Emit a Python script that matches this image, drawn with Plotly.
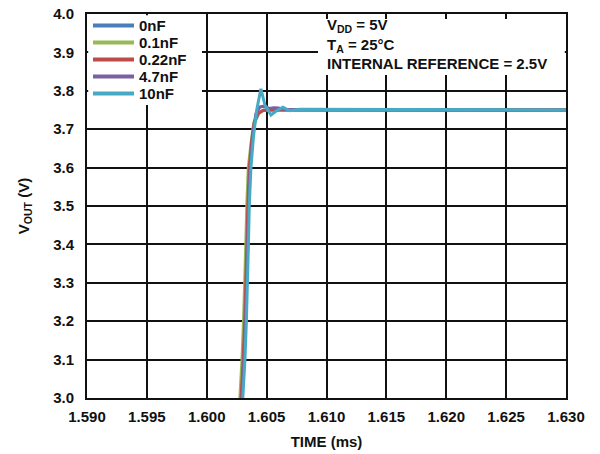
import plotly.graph_objects as go

# ---- data (time in ms, VOUT in V) ----
names = ["0nF", "0.1nF", "0.22nF", "4.7nF", "10nF"]
colors = ["#4a7ebb", "#98b954", "#be4b48", "#7d60a0", "#46aac5"]

t_0nF = [1.60280, 1.60290, 1.60306, 1.60319, 1.60330, 1.60336, 1.60344, 1.60356, 1.60377, 1.60402, 1.60436, 1.60477, 1.60528, 1.63000]
v_0nF = [2.95, 3.00, 3.10, 3.20, 3.30, 3.40, 3.50, 3.60, 3.67, 3.72, 3.742, 3.750, 3.750, 3.750]

t_01nF = [1.60268, 1.60278, 1.60294, 1.60307, 1.60319, 1.60326, 1.60334, 1.60347, 1.60368, 1.60392, 1.60425, 1.60465, 1.60520, 1.63000]
v_01nF = [2.95, 3.00, 3.10, 3.20, 3.30, 3.40, 3.50, 3.60, 3.66, 3.716, 3.738, 3.748, 3.750, 3.750]

t_022nF = [1.60278, 1.60288, 1.60304, 1.60317, 1.60329, 1.60335, 1.60343, 1.60355, 1.60375, 1.60398, 1.60430, 1.60470, 1.60525, 1.63000]
v_022nF = [2.95, 3.00, 3.10, 3.20, 3.30, 3.40, 3.50, 3.60, 3.67, 3.72, 3.742, 3.749, 3.750, 3.750]

t_47nF = [1.60285, 1.60295, 1.60311, 1.60324, 1.60336, 1.60342, 1.60350, 1.60363, 1.60383, 1.60410, 1.60445, 1.60480, 1.60520, 1.60560, 1.60600, 1.60650, 1.63000]
v_47nF = [2.95, 3.00, 3.10, 3.20, 3.30, 3.40, 3.50, 3.60, 3.68, 3.74, 3.758, 3.760, 3.754, 3.756, 3.755, 3.751, 3.750]

t_10nF = [1.60292, 1.60302, 1.60319, 1.60331, 1.60342, 1.60348, 1.60355, 1.60369, 1.60390, 1.60417, 1.60452, 1.60486, 1.60536, 1.60583, 1.60636, 1.60694, 1.60778, 1.63000]
v_10nF = [2.95, 3.00, 3.10, 3.20, 3.30, 3.40, 3.50, 3.60, 3.68, 3.75, 3.805, 3.763, 3.737, 3.748, 3.757, 3.748, 3.752, 3.750]

series_t = [t_0nF, t_01nF, t_022nF, t_47nF, t_10nF]
series_v = [v_0nF, v_01nF, v_022nF, v_47nF, v_10nF]

x_ticks = [1.590, 1.595, 1.600, 1.605, 1.610, 1.615, 1.620, 1.625, 1.630]
x_ticklabels = ["1.590", "1.595", "1.600", "1.605", "1.610", "1.615", "1.620", "1.625", "1.630"]
y_ticks = [3.0, 3.1, 3.2, 3.3, 3.4, 3.5, 3.6, 3.7, 3.8, 3.9, 4.0]
y_ticklabels = ["3.0", "3.1", "3.2", "3.3", "3.4", "3.5", "3.6", "3.7", "3.8", "3.9", "4.0"]

conditions = ["V<sub>DD</sub> = 5V", "T<sub>A</sub> = 25°C", "INTERNAL REFERENCE = 2.5V"]

FONT = "Liberation Sans, Arial, Helvetica, sans-serif"
INK = "#111111"
FS = 15

W, H = 600, 454
ML, MR, MT, MB = 87, 34, 14, 56
PW, PH = W - ML - MR, H - MT - MB


def px_x(p):  # pixel x -> paper fraction
    return (p - ML) / PW


def px_y(p):  # pixel y (from top) -> paper fraction
    return 1 - (p - MT) / PH


fig = go.Figure()
for name, col, t, v in zip(names, colors, series_t, series_v):
    fig.add_trace(go.Scatter(x=t, y=v, mode="lines", name=name, showlegend=False,
                             line=dict(color=col, width=3)))

axis_common = dict(
    showgrid=True, gridcolor=INK, gridwidth=1.7,
    showline=True, linecolor=INK, linewidth=2, mirror=True,
    zeroline=False, ticks="", automargin=False,
    tickfont=dict(family=FONT, size=FS, color=INK, weight="bold"),
)

fig.update_layout(
    width=W, height=H,
    margin=dict(l=ML, r=MR, t=MT, b=MB, autoexpand=False),
    paper_bgcolor="white", plot_bgcolor="white",
    font=dict(family=FONT, color=INK),
    showlegend=False,
    xaxis=dict(range=[1.590, 1.630], tickvals=x_ticks, ticktext=x_ticklabels,
               ticklabelstandoff=4,
               title=dict(text="TIME (ms)", standoff=12,
                          font=dict(family=FONT, size=FS, weight="bold")),
               **axis_common),
    yaxis=dict(range=[3.0, 4.0], tickvals=y_ticks, ticktext=y_ticklabels,
               ticklabelstandoff=8,
               title=dict(text="V<sub>OUT</sub> (V)", standoff=20,
                          font=dict(family=FONT, size=FS, weight="bold")),
               **axis_common),
)

# white boxes behind the legend and the conditions text (hide gridlines there)
fig.add_shape(type="rect", xref="paper", yref="paper", layer="above",
              x0=px_x(88.2), x1=px_x(202), y0=px_y(105), y1=px_y(15.2),
              fillcolor="white", line=dict(width=0))
fig.add_shape(type="rect", xref="paper", yref="paper", layer="above",
              x0=px_x(318), x1=px_x(564.8), y0=px_y(75), y1=px_y(19),
              fillcolor="white", line=dict(width=0))

# legend (drawn manually to keep the reference's tight row spacing)
row0, row_step = 25.5, 17
for i, (name, col) in enumerate(zip(names, colors)):
    yy = px_y(row0 + i * row_step)
    fig.add_shape(type="line", xref="paper", yref="paper", layer="above",
                  x0=px_x(93), x1=px_x(134), y0=yy, y1=yy,
                  line=dict(color=col, width=4))
    fig.add_annotation(xref="paper", yref="paper", x=px_x(137), y=yy,
                       xanchor="left", yanchor="middle", text=name, showarrow=False,
                       font=dict(family=FONT, size=FS, color=INK, weight="bold"))

# test conditions (one text block)
fig.add_annotation(xref="paper", yref="paper", x=px_x(325), y=px_y(44),
                   xanchor="left", yanchor="middle", text="<br>".join(conditions),
                   showarrow=False, align="left",
                   font=dict(family=FONT, size=FS, color=INK, weight="bold"))

fig.write_html("out.html", config={"displayModeBar": False},
               post_script="document.body.style.margin='0';")
